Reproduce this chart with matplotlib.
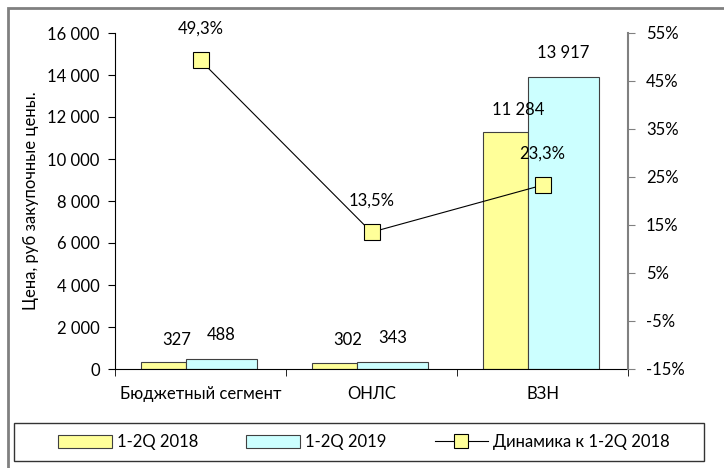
import matplotlib
matplotlib.use("Agg")
import matplotlib.pyplot as plt
from matplotlib.patches import Rectangle
from matplotlib.lines import Line2D
import numpy as np

categories = ["Бюджетный сегмент", "ОНЛС", "ВЗН"]
price_2018 = [327, 302, 11284]
price_2019 = [488, 343, 13917]
dynamics = [49.3, 13.5, 23.3]
label_2018 = "1-2Q 2018"
label_2019 = "1-2Q 2019"
label_dyn = "Динамика к 1-2Q 2018"
ylabel = "Цена, руб закупочные цены."

plt.rcParams['font.family'] = ['Lato', 'DejaVu Sans']
FS = 12

fig = plt.figure(figsize=(7.24, 4.68), dpi=100)
W, H = 724, 468
ax = fig.add_axes([115 / W, 1 - 369 / H, (628 - 115) / W, (369 - 33) / H])
ax2 = ax.twinx()

x = np.arange(len(categories))
yel, cyan = "#FFFF99", "#CCFFFF"
b1 = ax.bar(x - 0.215, price_2018, width=0.265, color=yel, edgecolor="#404040", linewidth=0.8, zorder=2)
b2 = ax.bar(x + 0.1225, price_2019, width=0.41, color=cyan, edgecolor="#404040", linewidth=0.8, zorder=2)

def fmt(v):
    return f"{v:,}".replace(",", " ")

for r, v in zip(b1, price_2018):
    ax.annotate(fmt(v), (r.get_x() + r.get_width() / 2, v), xytext=(9, 16), textcoords="offset points",
                ha="center", va="center", fontsize=FS)
for r, v in zip(b2, price_2019):
    ax.annotate(fmt(v), (r.get_x() + r.get_width() / 2, v), xytext=(0, 17), textcoords="offset points",
                ha="center", va="center", fontsize=FS)

ax.set_xlim(-0.5, 2.5)
ax.set_ylim(0, 16000)
ax.set_yticks(np.arange(0, 16001, 2000))
ax.set_yticklabels([fmt(v) for v in range(0, 16001, 2000)], fontsize=FS)
ax.set_xticks(x)
ax.set_xticklabels(categories, fontsize=FS)
ax.tick_params(axis="x", which="major", length=0, pad=12)
ax.set_xticks([-0.5, 0.5, 1.5, 2.5], minor=True)
ax.tick_params(axis="x", which="minor", length=5, direction="out")
ax.tick_params(axis="y", length=5, direction="out", pad=6)
ax.spines["top"].set_visible(False)
ax.spines["right"].set_visible(False)
ax.set_ylabel(ylabel, fontsize=FS, labelpad=6)

ax2.plot(x, dynamics, color="black", linewidth=0.8, marker="s", markersize=12,
         markerfacecolor=yel, markeredgecolor="black", markeredgewidth=0.8, zorder=3)
for xi, v in zip(x, dynamics):
    ax2.annotate(f"{v:.1f}%".replace(".", ","), (xi, v), xytext=(0, 23), textcoords="offset points",
                 ha="center", va="center", fontsize=FS)
ax2.set_ylim(-15, 55)
ax2.set_yticks(np.arange(-15, 56, 10))
ax2.set_yticklabels([f"{v}%" for v in range(-15, 56, 10)], fontsize=FS)
ax2.tick_params(axis="y", length=5, direction="out", color="#808080", pad=8)
for s in ["top", "left", "bottom"]:
    ax2.spines[s].set_visible(False)
ax2.spines["right"].set_color("#808080")
ax2.spines["right"].set_linewidth(1.5)

# outer border
fig.patches.append(Rectangle((8 / W, -0.1), 1.2, 1 - 8 / H + 0.1, transform=fig.transFigure,
                             fill=False, edgecolor="#808080", linewidth=2, figure=fig))
# legend box
fig.patches.append(Rectangle((14 / W, 1 - 461 / H), (704 - 14) / W, (461 - 423) / H, transform=fig.transFigure,
                             fill=False, edgecolor="#333333", linewidth=1, figure=fig))

handles = [
    Rectangle((0, 0), 1, 1, facecolor=yel, edgecolor="#404040", linewidth=0.8),
    Rectangle((0, 0), 1, 1, facecolor=cyan, edgecolor="#404040", linewidth=0.8),
    Line2D([], [], color="black", linewidth=0.8, marker="s", markersize=10,
           markerfacecolor=yel, markeredgecolor="black", markeredgewidth=0.8),
]
fig.legend(handles, [label_2018, label_2019, label_dyn], loc="center",
           bbox_to_anchor=(364 / W, 1 - 442 / H), ncol=3, frameon=False, fontsize=FS,
           handlelength=3.2, handleheight=0.8, handletextpad=0.3, columnspacing=2.9)

fig.savefig("out.png", dpi=100)
